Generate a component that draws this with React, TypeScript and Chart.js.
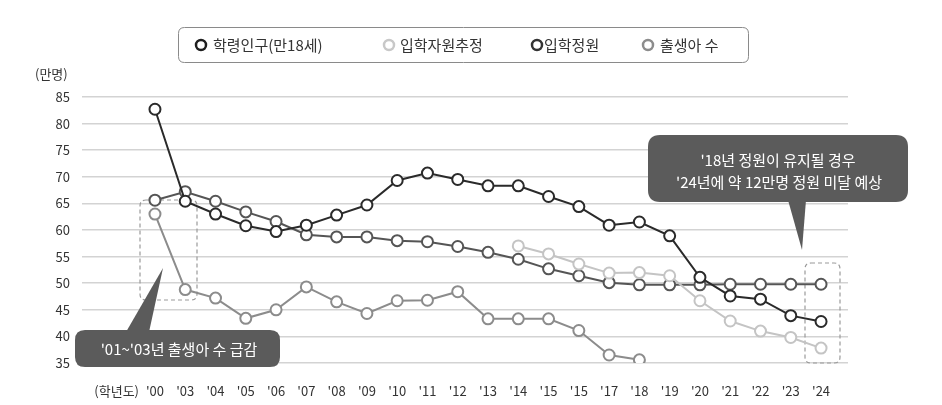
import { useEffect, useRef } from "react";
import { Chart, registerables } from "chart.js";

Chart.register(...registerables);

// ---- data ----
const yearLabels = ["'00", "'03", "'04", "'05", "'06", "'07", "'08", "'09", "'10", "'11", "'12", "'13", "'14", "'15", "'15", "'17", "'18", "'19", "'20", "'21", "'22", "'23", "'24"];
const schoolAgePop = [82.7, 65.4, 63.0, 60.8, 59.7, 60.9, 62.8, 64.7, 69.3, 70.7, 69.5, 68.3, 68.3, 66.3, 64.4, 60.9, 61.5, 58.9, 51.1, 47.6, 47.0, 43.9, 42.8];
const estimatedApplicants = [null, null, null, null, null, null, null, null, null, null, null, null, 57.0, 55.5, 53.6, 51.9, 52.0, 51.4, 46.7, 42.9, 41.0, 39.8, 37.8];
const admissionQuota = [65.6, 67.2, 65.4, 63.4, 61.6, 59.1, 58.7, 58.7, 58.0, 57.8, 56.9, 55.8, 54.5, 52.7, 51.4, 50.1, 49.7, 49.7, 49.7, 49.8, 49.8, 49.8, 49.8];
const births = [63.0, 48.8, 47.2, 43.4, 45.0, 49.3, 46.5, 44.3, 46.7, 46.8, 48.4, 43.3, 43.3, 43.3, 41.1, 36.5, 35.6, null, null, null, null, null, null];
const seriesNames = ["학령인구(만18세)", "입학자원추정", "입학정원", "출생아 수"];
const yUnit = "(만명)";
const xUnit = "(학년도)";
const note1 = "'01~'03년 출생아 수 급감";
const note2 = ["'18년 정원이 유지될 경우", "'24년에 약 12만명 정원 미달 예상"];

const FONT = '"Noto Sans CJK KR", "Noto Sans", sans-serif';
const COLORS = ["#2a2a2a", "#c4c4c4", "#555555", "#8c8c8c"];

function rr(ctx: CanvasRenderingContext2D, x: number, y: number, w: number, h: number, r: number) {
  ctx.beginPath();
  ctx.moveTo(x + r, y);
  ctx.lineTo(x + w - r, y);
  ctx.quadraticCurveTo(x + w, y, x + w, y + r);
  ctx.lineTo(x + w, y + h - r);
  ctx.quadraticCurveTo(x + w, y + h, x + w - r, y + h);
  ctx.lineTo(x + r, y + h);
  ctx.quadraticCurveTo(x, y + h, x, y + h - r);
  ctx.lineTo(x, y + r);
  ctx.quadraticCurveTo(x, y, x + r, y);
  ctx.closePath();
}

const decor = {
  id: "decor",
  beforeDatasetsDraw(chart: any) {
    const ctx: CanvasRenderingContext2D = chart.ctx;
    ctx.save();
    ctx.setLineDash([4, 3]);
    ctx.strokeStyle = "#9a9a9a";
    ctx.lineWidth = 1.2;
    rr(ctx, 140, 200, 57, 100, 6);
    ctx.stroke();
    rr(ctx, 805, 263, 35, 100, 6);
    ctx.stroke();
    ctx.restore();
  },
  afterDatasetsDraw(chart: any) {
    const ctx: CanvasRenderingContext2D = chart.ctx;
    ctx.save();
    ctx.fillStyle = "#5b5b5b";
    // callout 1
    rr(ctx, 75, 330, 205, 37, 10);
    ctx.fill();
    ctx.beginPath();
    ctx.moveTo(126, 332);
    ctx.lineTo(149, 332);
    ctx.lineTo(163, 268);
    ctx.closePath();
    ctx.fill();
    // callout 2
    rr(ctx, 648, 135, 260, 67, 12);
    ctx.fill();
    ctx.beginPath();
    ctx.moveTo(788, 200);
    ctx.lineTo(806, 200);
    ctx.lineTo(802, 250);
    ctx.closePath();
    ctx.fill();
    ctx.fillStyle = "#ffffff";
    ctx.font = `15px ${FONT}`;
    ctx.textAlign = "center";
    ctx.textBaseline = "middle";
    ctx.fillText(note1, 179, 349);
    ctx.fillText(note2[0], 778, 160);
    ctx.fillText(note2[1], 779, 182);
    ctx.restore();
  },
  afterDraw(chart: any) {
    const ctx: CanvasRenderingContext2D = chart.ctx;
    ctx.save();
    // axis units
    ctx.fillStyle = "#333";
    ctx.font = `13px ${FONT}`;
    ctx.textBaseline = "middle";
    ctx.textAlign = "left";
    ctx.fillText(yUnit, 35, 74);
    ctx.textAlign = "right";
    ctx.fillText(xUnit, 139, 391);
    // legend
    ctx.strokeStyle = "#8a8a8a";
    ctx.lineWidth = 1;
    rr(ctx, 178.5, 27.5, 570, 35, 6);
    ctx.stroke();
    const pos = [
      { cx: 201, tx: 213 },
      { cx: 389, tx: 400 },
      { cx: 537, tx: 544 },
      { cx: 648, tx: 660 },
    ];
    const legendColors = ["#1e1e1e", "#c8c8c8", "#333333", "#8c8c8c"];
    chart.data.datasets.forEach((ds: any, i: number) => {
      const p = pos[i];
      ctx.beginPath();
      ctx.arc(p.cx, 45, 5, 0, Math.PI * 2);
      ctx.fillStyle = "#fff";
      ctx.fill();
      ctx.lineWidth = 2.5;
      ctx.strokeStyle = legendColors[i];
      ctx.stroke();
      ctx.fillStyle = "#333";
      ctx.font = `15px ${FONT}`;
      ctx.textAlign = "left";
      ctx.textBaseline = "middle";
      ctx.fillText(ds.label, p.tx, 45);
    });
    ctx.restore();
  },
};

export default function App() {
  const ref = useRef<HTMLCanvasElement>(null);
  useEffect(() => {
    if (!ref.current) return;
    const toPoints = (arr: (number | null)[]) => arr.map((v, i) => ({ x: i, y: v }));
    const seriesData = [schoolAgePop, estimatedApplicants, admissionQuota, births];
    const chart = new Chart(ref.current, {
      type: "line",
      data: {
        datasets: seriesData.map((arr, i) => ({
          label: seriesNames[i],
          data: toPoints(arr) as any,
          borderColor: COLORS[i],
          backgroundColor: "#ffffff",
          pointBackgroundColor: "#ffffff",
          pointBorderColor: COLORS[i],
          pointRadius: 5.5,
          pointBorderWidth: 2,
          borderWidth: 2,
          tension: 0,
          spanGaps: false,
        })),
      },
      options: {
        animation: false,
        responsive: false,
        maintainAspectRatio: false,
        events: [],
        layout: { padding: { top: 97, right: 94, bottom: 0, left: 0 } },
        plugins: { legend: { display: false }, tooltip: { enabled: false } },
        scales: {
          x: {
            type: "linear",
            min: -2.41,
            max: 22.89,
            grid: { display: false, drawTicks: false },
            border: { display: false },
            afterBuildTicks: (s: any) => {
              s.ticks = yearLabels.map((_, i) => ({ value: i }));
            },
            afterFit: (s: any) => {
              s.height = 42;
            },
            ticks: {
              autoSkip: false,
              maxRotation: 0,
              padding: 20,
              color: "#333",
              font: { family: FONT, size: 13 },
              callback: (v: any) => yearLabels[v] ?? "",
            },
          },
          y: {
            min: 35,
            max: 85,
            grid: { color: "#d3d3d3", lineWidth: 1.5, drawTicks: false },
            border: { display: false },
            afterFit: (s: any) => {
              s.width = 82;
            },
            ticks: {
              stepSize: 5,
              padding: 12,
              color: "#333",
              font: { family: FONT, size: 13 },
            },
          },
        },
      },
      plugins: [decor],
    });
    return () => chart.destroy();
  }, []);
  return (
    <div style={{ position: "absolute", left: 0, top: 0, width: 942, height: 405, background: "#fff" }}>
      <canvas ref={ref} width={942} height={405} style={{ display: "block", width: 942, height: 405 }} />
    </div>
  );
}
